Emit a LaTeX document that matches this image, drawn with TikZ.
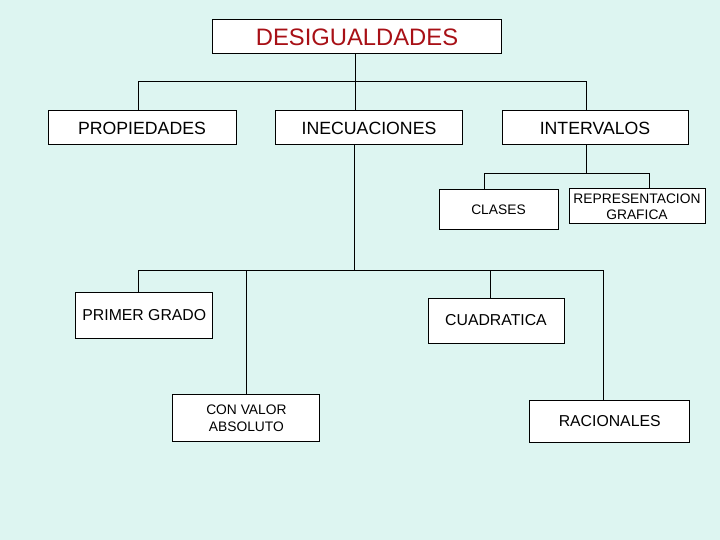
\documentclass[tikz,border=0pt]{standalone}
\usepackage{fontspec}
\setmainfont{Liberation Sans}
\definecolor{bgc}{RGB}{221,245,241}
\definecolor{titlered}{RGB}{168,16,22}
\begin{document}
\begin{tikzpicture}[x=1pt,y=-1pt,
  box/.style={draw=black,fill=white,line width=1pt,inner sep=0pt,align=center},
  big/.style={font=\fontsize{17.7}{21}\selectfont},
  mid/.style={font=\fontsize{15.8}{19}\selectfont},
  small/.style={font=\fontsize{13.8}{16.5}\selectfont},
  conn/.style={draw=black,line width=1pt}]
\fill[bgc] (0,0) rectangle (720,540);
\useasboundingbox (0,0) rectangle (720,540);
% nodes
\node[box,minimum width=289pt,minimum height=34pt,text=titlered,font=\fontsize{23.8}{28}\selectfont] (desig) at (357,37) {DESIGUALDADES};
\node[box,big,minimum width=188pt,minimum height=34pt] (prop) at (142,128) {PROPIEDADES};
\node[box,big,minimum width=187pt,minimum height=34pt] (inec) at (369,128) {INECUACIONES};
\node[box,big,minimum width=186pt,minimum height=34pt] (interv) at (595,128) {INTERVALOS};
\node[box,small,minimum width=119pt,minimum height=40pt] (clases) at (498.5,210) {CLASES};
\node[box,small,minimum width=136pt,minimum height=35pt] (repr) at (637,206.5) {REPRESENTACION\\GRAFICA};
\node[box,mid,minimum width=137pt,minimum height=46pt] (primer) at (144.3,315) {PRIMER GRADO};
\node[box,mid,minimum width=136pt,minimum height=45pt] (cuad) at (496,320.5) {CUADRATICA};
\node[box,small,minimum width=147pt,minimum height=47pt] (valor) at (246.4,418.4) {CON VALOR\\ABSOLUTO};
\node[box,mid,minimum width=160pt,minimum height=42pt] (racio) at (609.7,421.5) {RACIONALES};
% junction coordinates
\coordinate (j1) at (355,82);
\coordinate (j1l) at (138,82);
\coordinate (j1r) at (586.7,82);
\coordinate (j2) at (586.7,173.3);
\coordinate (j2l) at (484,173.3);
\coordinate (j2r) at (649,173.3);
\coordinate (j3) at (354,270);
\coordinate (j3l) at (138,270);
\coordinate (j3a) at (246,270);
\coordinate (j3b) at (490,270);
\coordinate (j3r) at (603,270);
% connectors
\draw[conn] (j1 |- desig.south) -- (j1);
\draw[conn] (j1l |- prop.north) -- (j1l) -- (j1r) -- (j1r |- interv.north);
\draw[conn] (j1) -- (j1 |- inec.north);
\draw[conn] (j2 |- interv.south) -- (j2);
\draw[conn] (j2l |- clases.north) -- (j2l) -- (j2r) -- (j2r |- repr.north);
\draw[conn] (j3 |- inec.south) -- (j3);
\draw[conn] (j3l |- primer.north) -- (j3l) -- (j3r) -- (j3r |- racio.north);
\draw[conn] (j3a) -- (j3a |- valor.north);
\draw[conn] (j3b) -- (j3b |- cuad.north);
\end{tikzpicture}
\end{document}
